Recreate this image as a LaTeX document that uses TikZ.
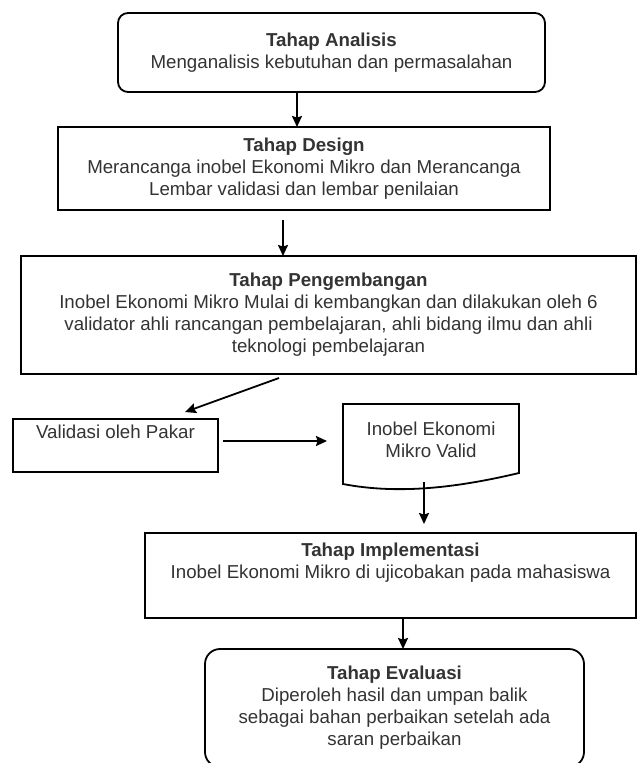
\documentclass[tikz,border=0pt]{standalone}
\usepackage{fontspec}
\setmainfont{Liberation Sans}
\usetikzlibrary{arrows.meta}
\usetikzlibrary{calc}

\begin{document}
\begin{tikzpicture}[x=1pt,y=-1pt,->,>={Stealth[length=11pt,width=10pt,inset=1.5pt]},line width=1.8pt,
  main node/.style={rectangle,draw,inner sep=0pt,outer sep=0pt,align=center,text=black!80,
    font=\fontsize{18.7}{22}\selectfont},
  round node/.style={main node,rounded corners=10pt}]

  \useasboundingbox (0,0) rectangle (637,763);

  \node[round node,minimum width=427pt,minimum height=79pt] (1) at (331.5,52.5)
    {\textbf{Tahap Analisis}\\Menganalisis kebutuhan dan permasalahan};
  \node[main node,minimum width=492pt,minimum height=83pt] (2) at (304,168.5)
    {\textbf{Tahap Design}\\Merancanga inobel Ekonomi Mikro dan Merancanga\\Lembar validasi dan lembar penilaian};
  \node[main node,minimum width=615pt,minimum height=118pt] (3) at (328.5,315)
    {\textbf{Tahap Pengembangan}\\Inobel Ekonomi Mikro Mulai di kembangkan dan dilakukan oleh 6\\
     validator ahli rancangan pembelajaran, ahli bidang ilmu dan ahli\\teknologi pembelajaran};
  \node[main node,minimum width=205pt,minimum height=53pt] (4) at (115.5,445.5)
    {Validasi oleh Pakar\\[6pt]};
  \node[main node,draw=none,minimum width=176pt,minimum height=72pt] (5) at (431,440)
    {Inobel Ekonomi\\Mikro Valid};
  \node[main node,minimum width=491pt,minimum height=85pt] (6) at (390.5,575.5)
    {\textbf{Tahap Implementasi}\\Inobel Ekonomi Mikro di ujicobakan pada mahasiswa\\[8pt]};
  \node[round node,rounded corners=15pt,minimum width=379pt,minimum height=118pt] (7) at (394.5,708)
    {\textbf{Tahap Evaluasi}\\Diperoleh hasil dan umpan balik\\sebagai bahan perbaikan setelah ada\\saran perbaikan};

  % document shape
  \draw[-] (5.north west) -- (5.north east) -- ([yshift=3pt]5.south east)
    .. controls ($(5.south east)+(-59,11)$) and ($(5.south west)+(57,19)$) .. ([yshift=-8pt]5.south west) -- cycle;

  \path
    ([xshift=-34.5pt]1.south) edge ([xshift=-7pt]2.north)
    ([xshift=-21pt,yshift=-10pt]2.south) edge ([xshift=-45.5pt]3.north)
    ([xshift=-49.5pt,yshift=-4pt]3.south) edge ([xshift=69.5pt,yshift=7pt]4.north)
    ([xshift=5pt,yshift=4.5pt]4.east) edge ([xshift=-16pt,yshift=-1pt]5.west)
    ([xshift=-7pt,yshift=-6pt]5.south) edge ([xshift=33.5pt,yshift=9pt]6.north)
    ([xshift=12.5pt]6.south) edge ([xshift=8.5pt]7.north);
\end{tikzpicture}
\end{document}
